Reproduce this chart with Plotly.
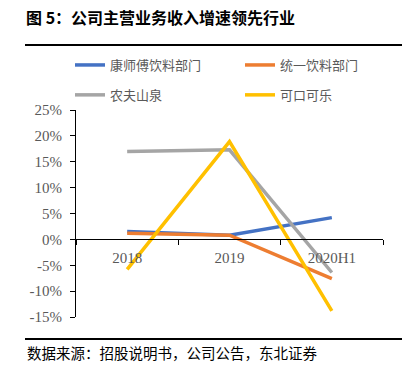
import plotly.graph_objects as go

categories = ["2018", "2019", "2020H1"]
names = ["康师傅饮料部门", "统一饮料部门", "农夫山泉", "可口可乐"]
ksf = [1.5, 0.8, 4.2]
ty = [1.2, 0.8, -7.6]
nfsq = [17.0, 17.3, -6.4]
kkkl = [-5.8, 18.9, -13.8]
colors = ["#4472C4", "#ED7D31", "#A5A5A5", "#FFC000"]
legend_ids = ["legend", "legend2", "legend", "legend2"]
yticks = [-15, -10, -5, 0, 5, 10, 15, 20, 25]
title = "图 5：公司主营业务收入增速领先行业"
source = "数据来源：招股说明书，公司公告，东北证券"

W, H = 412, 368
L, R, T, B = 76, 383, 110, 317

def px(x):
    return (x - L) / (R - L)

def py(y):
    return (B - y) / (B - T)

fig = go.Figure()
for i, (n, v, c, lg) in enumerate(zip(names, [ksf, ty, nfsq, kkkl], colors, legend_ids)):
    fig.add_trace(go.Scatter(x=categories, y=v, name=n, mode="lines",
                             line=dict(color=c, width=3.5), legend=lg,
                             legendgroup=f"g{i}"))

serif = "Liberation Serif, Times New Roman, serif"
legfont = dict(family="Noto Sans CJK SC", size=13, color="#595959")
common_leg = dict(orientation="v", xref="paper", yref="paper",
                  xanchor="left", yanchor="top", itemwidth=30,
                  font=legfont, tracegroupgap=10, bgcolor="rgba(0,0,0,0)")

fig.update_layout(
    width=W, height=H,
    margin=dict(l=L, r=W - R, t=T, b=H - B, autoexpand=False),
    paper_bgcolor="white", plot_bgcolor="white",
    showlegend=True,
    legend=dict(x=px(70), y=py(50), **common_leg),
    legend2=dict(x=px(240), y=py(50), **common_leg),
    title=dict(text="<b>" + title + "</b>", x=26 / W, xref="container", xanchor="left",
               y=1 - 18 / H, yref="container", yanchor="middle",
               font=dict(family="Noto Sans CJK SC", size=16, color="black")),
    xaxis=dict(type="category", anchor="free", position=15 / 40, range=[-0.5, 2.5],
               showline=True, linecolor="black", linewidth=1,
               ticks="outside", ticklen=5, tickcolor="black", tickson="boundaries",
               ticklabelstandoff=5,
               showgrid=False, zeroline=False, automargin=False,
               tickfont=dict(family=serif, size=15, color="#595959")),
    yaxis=dict(range=[-15, 25], tickvals=yticks, ticktext=[f"{t}%" for t in yticks],
               showline=True, linecolor="black", linewidth=1,
               ticks="outside", ticklen=5, tickcolor="black", ticklabelstandoff=5,
               showgrid=False, zeroline=False, automargin=False,
               tickfont=dict(family=serif, size=15, color="#595959")),
    annotations=[
        dict(text=source, xref="paper", yref="paper", x=px(25), y=py(352),
             xanchor="left", yanchor="middle", showarrow=False,
             font=dict(family="Noto Sans CJK SC", size=14.5, color="black")),
    ],
)

post = """
document.body.style.margin='0';
document.body.style.overflow='hidden';
[44, 338].forEach(function(t){
  var d = document.createElement('div');
  d.style.position='absolute'; d.style.left='25px'; d.style.top=t+'px';
  d.style.width='377px'; d.style.height='1.5px'; d.style.background='black';
  d.style.zIndex='10'; d.style.pointerEvents='none';
  document.body.appendChild(d);
});
"""

fig.write_html("out.html", config={"displayModeBar": False}, post_script=post)
